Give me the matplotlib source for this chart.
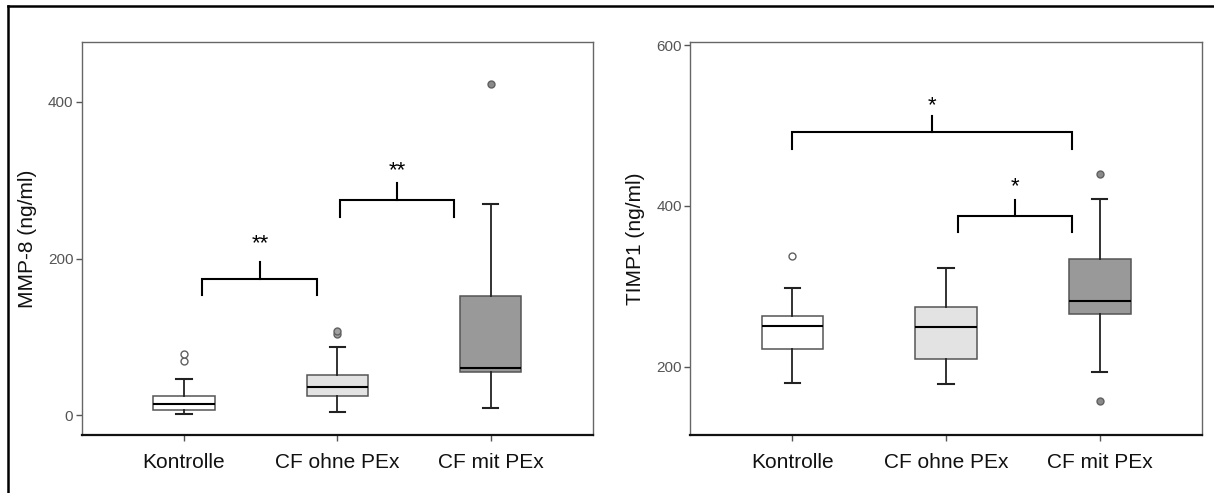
import matplotlib
matplotlib.use("Agg")
import matplotlib.pyplot as plt
from matplotlib.lines import Line2D

plt.rcParams['font.family'] = ['Liberation Sans', 'DejaVu Sans']

# ---------------- data ----------------
categories = ["Kontrolle", "CF ohne PEx", "CF mit PEx"]

# MMP-8 (ng/ml) box statistics
mmp8_whislo = [2.5, 4, 10]
mmp8_q1 = [7.5, 25, 55]
mmp8_med = [15, 36, 61]
mmp8_q3 = [25, 51, 152]
mmp8_whishi = [46, 87, 270]
mmp8_fliers = [[69, 78], [104, 107], [422]]

# TIMP1 (ng/ml) box statistics
timp_whislo = [180, 178, 193]
timp_q1 = [222, 210, 266]
timp_med = [251, 249, 282]
timp_q3 = [263, 274, 334]
timp_whishi = [298, 323, 409]
timp_fliers = [[338], [], [440, 158]]

box_colors = ["#ffffff", "#e3e3e3", "#999999"]
flier_faces = ["#ffffff", "#a0a0a0", "#8a8a8a"]

# significance brackets: (x_left, x_right, y_leg, y_bar, y_tick, y_text, label)
mmp8_sig = [(0.12, 0.87, 153, 174, 195, 206, "**"),
            (1.02, 1.76, 253, 275, 296, 299, "**")]
timp_sig = [(0.0, 1.82, 471, 492, 512, 512, "*"),
            (1.08, 1.82, 367, 387, 408, 411, "*")]


def make_stats(lo, q1, med, q3, hi, fl):
    out = []
    for i in range(len(lo)):
        out.append(dict(whislo=lo[i], q1=q1[i], med=med[i], q3=q3[i],
                        whishi=hi[i], fliers=fl[i]))
    return out


fig = plt.figure(figsize=(12.14, 4.93), dpi=100)
W, H = 1214, 493


def draw_panel(rect, stats, ylim, yticks, ylabel, sig):
    ax = fig.add_axes(rect)
    bp = ax.bxp(stats, positions=range(len(stats)), widths=0.4,
                patch_artist=True, capwidths=0.1,
                boxprops=dict(edgecolor="#555555", linewidth=1.1),
                medianprops=dict(color="#000000", linewidth=1.5),
                whiskerprops=dict(color="#222222", linewidth=1.3),
                capprops=dict(color="#222222", linewidth=1.5),
                flierprops=dict(marker="o", markersize=5,
                                markeredgecolor="#606060",
                                markeredgewidth=1.0))
    for patch, c in zip(bp['boxes'], box_colors):
        patch.set_facecolor(c)
    for fl, fc in zip(bp['fliers'], flier_faces):
        fl.set_markerfacecolor(fc)
    ax.set_xlim(-0.667, 2.667)
    ax.set_ylim(*ylim)
    ax.set_yticks(yticks)
    ax.set_xticks(range(len(categories)))
    ax.set_xticklabels(categories, fontsize=15, color="#111111")
    ax.tick_params(axis='y', labelsize=11, labelcolor="#555555",
                   color="#555555", length=4, width=1, pad=2)
    ax.tick_params(axis='x', color="#555555", length=4, width=1, pad=9)
    ax.set_ylabel(ylabel, fontsize=15, color="#111111", labelpad=8)
    for s in ['left', 'top', 'right']:
        ax.spines[s].set_color("#666666")
        ax.spines[s].set_linewidth(1.0)
    ax.spines['bottom'].set_color("#111111")
    ax.spines['bottom'].set_linewidth(1.6)
    for (xl, xr, yleg, ybar, ytick, ytext, lab) in sig:
        xc = (xl + xr) / 2
        ax.plot([xl, xl, xr, xr], [yleg, ybar, ybar, yleg],
                color="#000000", linewidth=1.5, solid_joinstyle='miter')
        ax.plot([xc, xc], [ybar, ytick], color="#000000", linewidth=1.5)
        ax.text(xc, ytext, lab, ha='center', va='bottom', fontsize=16,
                color="#000000")
    return ax


bottom = (H - 434.7) / H
height = (434.7 - 42.3) / H
draw_panel([81.7 / W, bottom, (593 - 81.7) / W, height],
           make_stats(mmp8_whislo, mmp8_q1, mmp8_med, mmp8_q3,
                      mmp8_whishi, mmp8_fliers),
           (-24.5, 475.5), [0, 200, 400], "MMP-8 (ng/ml)", mmp8_sig)
draw_panel([690 / W, bottom, (1202.3 - 690) / W, height],
           make_stats(timp_whislo, timp_q1, timp_med, timp_q3,
                      timp_whishi, timp_fliers),
           (115.5, 603.5), [200, 400, 600], "TIMP1 (ng/ml)", timp_sig)

# outer frame (top and left edges)
fig.add_artist(Line2D([8 / W, 8 / W], [0, 1 - 6 / H], color="black",
                      linewidth=1.8, transform=fig.transFigure))
fig.add_artist(Line2D([8 / W, 1], [1 - 6 / H, 1 - 6 / H], color="black",
                      linewidth=1.8, transform=fig.transFigure))

fig.savefig("out.png", dpi=100)
